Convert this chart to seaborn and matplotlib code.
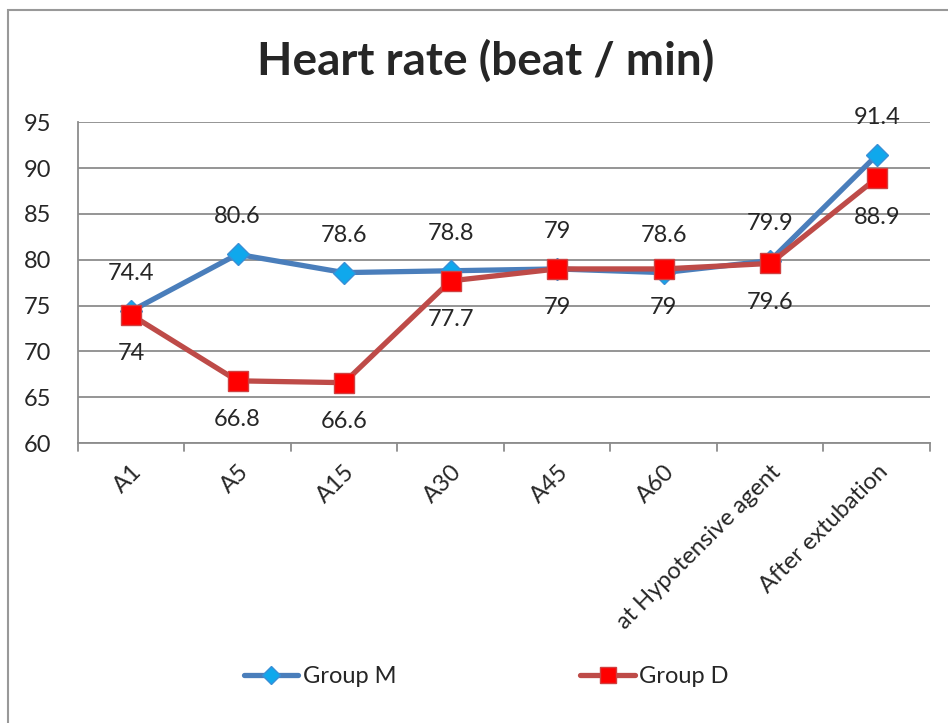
import matplotlib
matplotlib.use("Agg")
import matplotlib.pyplot as plt
import seaborn as sns
from matplotlib.patches import Rectangle

categories = ["A1", "A5", "A15", "A30", "A45", "A60",
              "at Hypotensive agent", "After extubation"]
group_m = [74.4, 80.6, 78.6, 78.8, 79, 78.6, 79.9, 91.4]
group_d = [74, 66.8, 66.6, 77.7, 79, 79, 79.6, 88.9]
m_labels = ["74.4", "80.6", "78.6", "78.8", "79", "78.6", "79.9", "91.4"]
d_labels = ["74", "66.8", "66.6", "77.7", "79", "79", "79.6", "88.9"]
y_ticks = [60, 65, 70, 75, 80, 85, 90, 95]


def main():
    sns.set_style("white")
    plt.rcParams["font.family"] = ["Lato", "DejaVu Sans"]

    fig = plt.figure(figsize=(9.48, 7.23), dpi=100)
    ax = fig.add_axes([0.082, 0.387, 0.899, 0.444])

    grid_col = "#8c8c8c"
    fs = 17
    for y in y_ticks:
        ax.axhline(y, color=grid_col, lw=1.3, zorder=0)

    sns.lineplot(x=categories, y=group_m, sort=False, ax=ax, color="#4a7ebb",
                 lw=3.8, marker="D", markersize=11, markerfacecolor="#0fa8ec",
                 markeredgecolor="#3a8fd6", markeredgewidth=1, label="Group M",
                 zorder=3)
    sns.lineplot(x=categories, y=group_d, sort=False, ax=ax, color="#be4b48",
                 lw=3.8, marker="s", markersize=14, markerfacecolor="#ff0000",
                 markeredgecolor="#d04040", markeredgewidth=1, label="Group D",
                 zorder=4)

    # data labels: group M above, group D below
    for i, (v, t) in enumerate(zip(group_m, m_labels)):
        ax.annotate(t, (i, v), xytext=(0, 27), textcoords="offset points",
                    ha="center", va="center", fontsize=fs)
    for i, (v, t) in enumerate(zip(group_d, d_labels)):
        ax.annotate(t, (i, v), xytext=(0, -28), textcoords="offset points",
                    ha="center", va="center", fontsize=fs)

    ax.set_xlim(-0.5, len(categories) - 0.5)
    ax.set_ylim(60, 95)
    ax.set_yticks(y_ticks)
    ax.set_xticks(range(len(categories)))
    ax.set_xticklabels(categories, rotation=45, ha="right",
                       rotation_mode="anchor", fontsize=fs)
    ax.tick_params(axis="y", labelsize=fs, length=6, color=grid_col, pad=13)
    ax.tick_params(axis="x", length=0, pad=13)
    # tick marks between categories
    for b in range(len(categories) + 1):
        ax.plot([b - 0.5, b - 0.5], [0, -0.025], transform=ax.get_xaxis_transform(),
                color=grid_col, lw=1.3, clip_on=False)
    for s in ["top", "right"]:
        ax.spines[s].set_visible(False)
    for s in ["left", "bottom"]:
        ax.spines[s].set_color(grid_col)
        ax.spines[s].set_linewidth(1.3)
    ax.set_xlabel("")
    ax.set_ylabel("")

    fig.suptitle("Heart rate (beat / min)", fontsize=33, fontweight="bold",
                 x=0.512, y=0.915, va="center")

    handles, labels = ax.get_legend_handles_labels()
    ax.get_legend().remove()
    fig.legend(handles, labels, loc="center", bbox_to_anchor=(0.513, 0.064),
               ncol=2, frameon=False, fontsize=fs, columnspacing=7.8,
               handlelength=2.3, handletextpad=0.2, markerscale=0.85)

    fig.patches.append(Rectangle((8 / 948, -0.1), 2, 1.1 - 10 / 723,
                                 transform=fig.transFigure, fill=False,
                                 edgecolor="#999999", lw=1.5))

    fig.savefig("out.png", dpi=100)


if __name__ == "__main__":
    main()
